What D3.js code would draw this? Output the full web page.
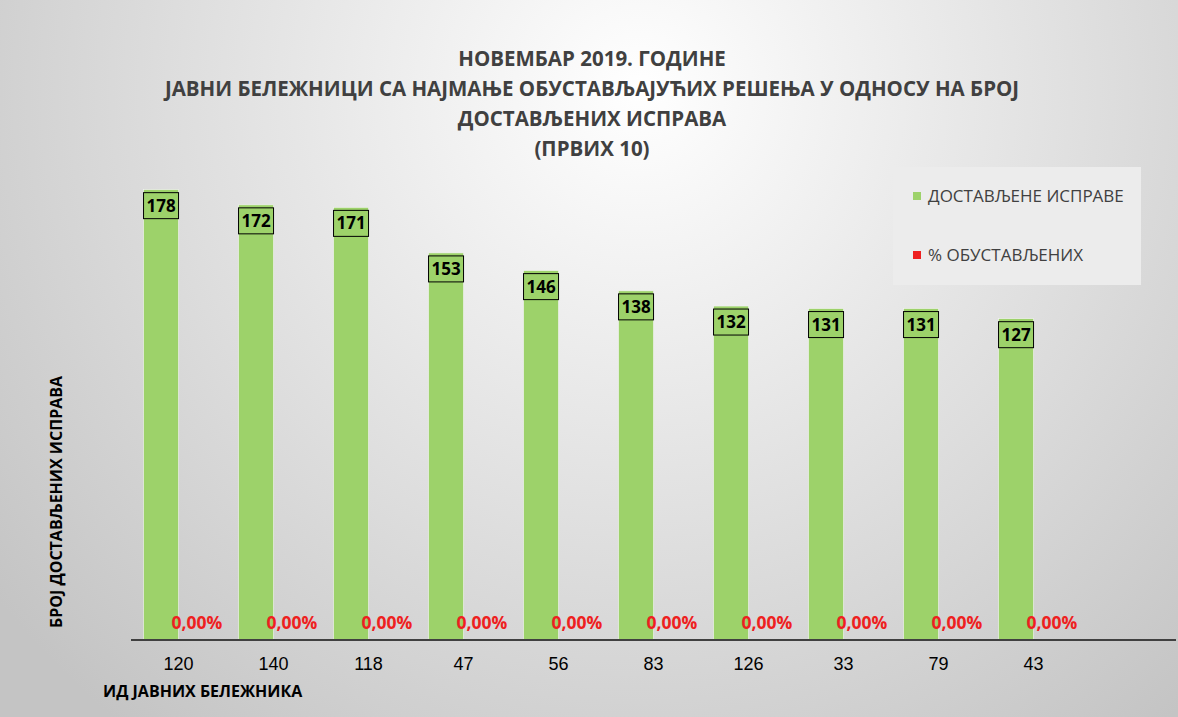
<!DOCTYPE html>
<html>
<head>
<meta charset="utf-8">
<script src="https://d3js.org/d3.v7.min.js"></script>
<style>
  body { margin: 0; overflow: hidden; }
  text { font-family: "Open Sans", sans-serif; }
</style>
</head>
<body>
<script>
const categories = ['120', '140', '118', '47', '56', '83', '126', '33', '79', '43'];
const documents = [178, 172, 171, 153, 146, 138, 132, 131, 131, 127];
const suspendedPct = [0, 0, 0, 0, 0, 0, 0, 0, 0, 0];
const titleLines = ['НОВЕМБАР 2019. ГОДИНЕ',
  'ЈАВНИ БЕЛЕЖНИЦИ СА НАЈМАЊЕ ОБУСТАВЉАЈУЋИХ РЕШЕЊА У ОДНОСУ НА БРОЈ',
  'ДОСТАВЉЕНИХ ИСПРАВА', '(ПРВИХ 10)'];
const legendLabels = ['ДОСТАВЉЕНЕ ИСПРАВЕ', '% ОБУСТАВЉЕНИХ'];

const width = 1178, height = 717;
const green = '#9dd26a', red = '#ee2020';

const svg = d3.select('body').append('svg').attr('width', width).attr('height', height);

const grad = svg.append('defs').append('radialGradient').attr('id', 'bg')
  .attr('gradientUnits', 'userSpaceOnUse')
  .attr('cx', 640).attr('cy', 90).attr('r', 820);
grad.append('stop').attr('offset', '0%').attr('stop-color', '#ffffff');
grad.append('stop').attr('offset', '100%').attr('stop-color', '#c4c4c4');
svg.append('rect').attr('width', width).attr('height', height).attr('fill', 'url(#bg)');

// scales
const x = d3.scaleBand().domain(categories).range([131, 131 + 95 * categories.length]);
const xInner = d3.scaleBand().domain([0, 1]).range([0, x.bandwidth()]).paddingOuter(0.36);
const y = d3.scaleLinear().domain([0, 200]).range([640, 134]);

// title
svg.append('g').selectAll('text').data(titleLines).join('text')
  .attr('x', 592).attr('y', (d, i) => 66 + i * 30)
  .attr('text-anchor', 'middle')
  .attr('font-size', 20.5).attr('font-weight', 'bold').attr('fill', '#404040')
  .text(d => d);

// legend
const lg = svg.append('g');
lg.append('rect').attr('x', 893).attr('y', 167).attr('width', 248).attr('height', 118).attr('fill', '#ececec');
[green, red].forEach((c, i) => {
  lg.append('rect').attr('x', 913).attr('y', 192 + i * 59).attr('width', 8).attr('height', 8).attr('fill', c);
  lg.append('text').attr('x', 928).attr('y', 202 + i * 59).attr('font-size', 17).attr('fill', '#404040')
    .text(legendLabels[i]);
});

// bars
const bars = svg.append('g');
bars.selectAll('rect').data(documents).join('rect')
  .attr('x', (d, i) => x(categories[i]) + xInner(0))
  .attr('y', d => y(d))
  .attr('width', xInner.bandwidth())
  .attr('height', d => y(0) - y(d))
  .attr('fill', green)
  .attr('stroke', '#f4f4f4').attr('stroke-width', 0.6);

bars.selectAll('.pct').data(suspendedPct).join('rect').attr('class', 'pct')
  .attr('x', (d, i) => x(categories[i]) + xInner(1))
  .attr('y', d => y(d))
  .attr('width', xInner.bandwidth())
  .attr('height', d => y(0) - y(d))
  .attr('fill', red);

// value labels
const vl = svg.append('g').selectAll('g').data(documents).join('g')
  .attr('transform', (d, i) => `translate(${x(categories[i]) + xInner(0) + xInner.bandwidth() / 2},${y(d) + 3})`);
vl.append('rect').attr('x', -17.5).attr('y', 0).attr('width', 35).attr('height', 26)
  .attr('fill', green).attr('stroke', '#000').attr('stroke-width', 1);
vl.append('text').attr('y', 19).attr('text-anchor', 'middle')
  .attr('font-size', 17).attr('font-weight', 'bold').attr('fill', '#000')
  .text(d => d);

svg.append('g').selectAll('text').data(suspendedPct).join('text')
  .attr('x', (d, i) => x(categories[i]) + xInner(1) + xInner.bandwidth() / 2 + 1)
  .attr('y', d => y(d) - 11)
  .attr('text-anchor', 'middle')
  .attr('font-size', 17.5).attr('font-weight', 'bold').attr('fill', red)
  .text(d => d3.format('.2f')(d).replace('.', ',') + '%');

// x axis
const xAxis = svg.append('g').attr('transform', `translate(0,${y(0)})`)
  .call(d3.axisBottom(x).tickSize(0).tickPadding(17));
xAxis.select('.domain').remove();
xAxis.selectAll('text').attr('font-size', 18).attr('fill', '#000')
  .style('font-family', '"Liberation Sans", Arial, sans-serif');
svg.append('line').attr('x1', 131).attr('x2', 1176).attr('y1', y(0)).attr('y2', y(0))
  .attr('stroke', '#404040').attr('stroke-width', 2);

// axis titles
svg.append('text').attr('x', 103).attr('y', 697)
  .attr('font-size', 16).attr('font-weight', 'bold').attr('fill', '#000')
  .text('ИД ЈАВНИХ БЕЛЕЖНИКА');
svg.append('text').attr('transform', 'translate(62,502) rotate(-90)')
  .attr('text-anchor', 'middle')
  .attr('font-size', 16).attr('font-weight', 'bold').attr('fill', '#000')
  .text('БРОЈ ДОСТАВЉЕНИХ ИСПРАВА');
</script>
</body>
</html>
